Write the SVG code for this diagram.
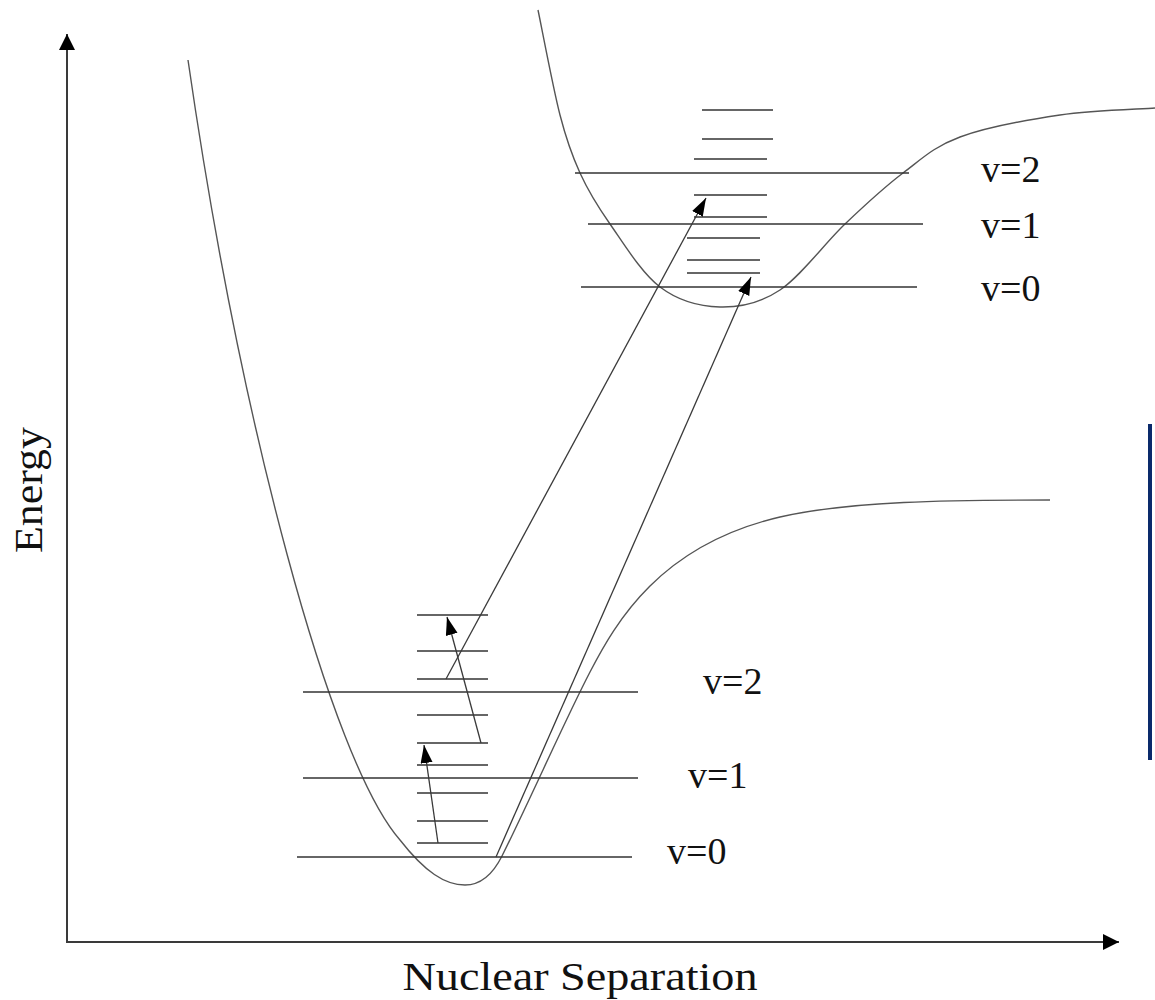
<svg xmlns="http://www.w3.org/2000/svg" width="1155" height="1000" viewBox="0 0 1155 1000">
<style>
.axis{stroke:#3a3a3a;stroke-width:2;fill:none}
.curve{stroke:#555;stroke-width:1.4;fill:none}
.lvl{stroke:#333;stroke-width:1.6}
.tr{stroke:#3a3a3a;stroke-width:1.3;fill:none}
.lbl{font-family:"Liberation Serif","Times New Roman",serif;font-size:38px;fill:#111}
.ax{font-family:"Liberation Serif","Times New Roman",serif;font-size:40px;fill:#111}
</style>
<defs>
<marker id="ah" markerUnits="userSpaceOnUse" markerWidth="20" markerHeight="14" refX="18" refY="6" orient="auto">
<path d="M0,0 L18,6 L0,12 Z" fill="#000"/>
</marker>
<marker id="axh" markerUnits="userSpaceOnUse" markerWidth="18" markerHeight="18" refX="16" refY="8" orient="auto">
<path d="M0,0 L16,8 L0,16 Z" fill="#000"/>
</marker>
</defs>
<rect width="1155" height="1000" fill="#fff"/>
<g id="axes">
<line class="axis" x1="67" y1="942" x2="67" y2="34" marker-end="url(#axh)"/>
<line class="axis" x1="66" y1="942" x2="1119" y2="942" marker-end="url(#axh)"/>
</g>
<g id="ground-curve">
<path class="curve" d="M188,60 C240,420 330,760 400,840 C425,872 445,885 465,885 C482,885 494,872 502,856 C530,800 565,720 590,672 C616,622 660,545 780,517 C850,501 950,500 1050,500"/>
</g>
<g id="excited-curve">
<path class="curve" d="M538,10 C541.7,27.5 553,87.8 560,115 C567,142.2 571.7,154.8 580,173 C588.3,191.2 596.7,205 610,224 C623.3,243 641.7,273.2 660,287 C678.3,300.8 700,306.5 720,307 C740,307.5 759.2,303.8 780,290 C800.8,276.2 824.5,243.5 845,224 C865.5,204.5 883.8,187.5 903,173 C922.2,158.5 933.8,146.7 960,137 C986.2,127.3 1027.5,119.8 1060,115 C1092.5,110.2 1139.2,109.2 1155,108"/>
</g>
<g id="ground-levels">
<line class="lvl" x1="297" y1="857" x2="632" y2="857"/>
<line class="lvl" x1="303" y1="778" x2="638" y2="778"/>
<line class="lvl" x1="303" y1="692" x2="638" y2="692"/>
<line class="lvl" x1="417" y1="615" x2="488" y2="615"/>
<line class="lvl" x1="417" y1="651" x2="488" y2="651"/>
<line class="lvl" x1="417" y1="679" x2="488" y2="679"/>
<line class="lvl" x1="417" y1="715" x2="488" y2="715"/>
<line class="lvl" x1="417" y1="743" x2="488" y2="743"/>
<line class="lvl" x1="417" y1="765" x2="488" y2="765"/>
<line class="lvl" x1="417" y1="793" x2="488" y2="793"/>
<line class="lvl" x1="417" y1="821" x2="488" y2="821"/>
<line class="lvl" x1="417" y1="843" x2="488" y2="843"/>
</g>
<g id="excited-levels">
<line class="lvl" x1="575" y1="173" x2="909" y2="173"/>
<line class="lvl" x1="588" y1="224" x2="923" y2="224"/>
<line class="lvl" x1="581" y1="287" x2="917" y2="287"/>
<line class="lvl" x1="702" y1="110" x2="773" y2="110"/>
<line class="lvl" x1="702" y1="139" x2="773" y2="139"/>
<line class="lvl" x1="694" y1="159" x2="767" y2="159"/>
<line class="lvl" x1="694" y1="195" x2="767" y2="195"/>
<line class="lvl" x1="694" y1="217" x2="767" y2="217"/>
<line class="lvl" x1="687" y1="238" x2="760" y2="238"/>
<line class="lvl" x1="687" y1="260" x2="760" y2="260"/>
<line class="lvl" x1="687" y1="273" x2="760" y2="273"/>
</g>
<g id="connectors">
<line class="tr" x1="438" y1="843" x2="424" y2="745" marker-end="url(#ah)"/>
<line class="tr" x1="481" y1="743" x2="447" y2="617" marker-end="url(#ah)"/>
<line class="tr" x1="446" y1="679" x2="706" y2="198" marker-end="url(#ah)"/>
<line class="tr" x1="496" y1="857" x2="751" y2="277" marker-end="url(#ah)"/>
</g>
<g id="labels">
<text class="lbl" x="981" y="182">v=2</text>
<text class="lbl" x="981" y="238">v=1</text>
<text class="lbl" x="981" y="301">v=0</text>
<text class="lbl" x="703" y="694">v=2</text>
<text class="lbl" x="688" y="788">v=1</text>
<text class="lbl" x="667" y="864">v=0</text>
<text class="ax" x="580" y="990" text-anchor="middle" textLength="355" lengthAdjust="spacingAndGlyphs">Nuclear Separation</text>
<text class="ax" transform="translate(42,490) rotate(-90)" text-anchor="middle" textLength="126" lengthAdjust="spacingAndGlyphs">Energy</text>
</g>
<g id="bar">
<line x1="1150" y1="424" x2="1150" y2="760" stroke="#0a2a6b" stroke-width="4"/>
</g>
</svg>
